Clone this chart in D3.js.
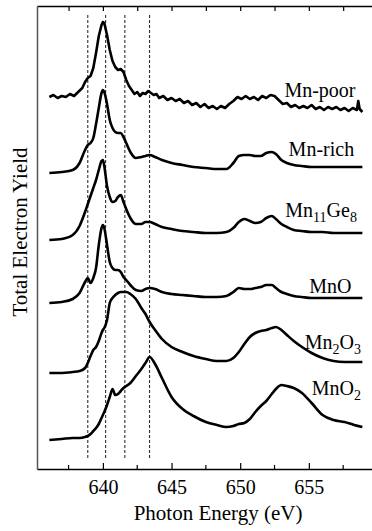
<!DOCTYPE html>
<html lang="en">
<head>
<meta charset="UTF-8">
<script src="https://d3js.org/d3.v7.min.js"></script>
<title>Mn L-edge Total Electron Yield</title>
<style>
    body { margin: 0; background: white; }
    text { font-family: "Liberation Serif", "Times New Roman", serif; fill: black; }
    .curve { fill: none; stroke: black; stroke-width: 2.6; stroke-linejoin: round; }
    .guide { stroke: black; stroke-width: 0.9; stroke-dasharray: 3,2; }
</style>
</head>
<body>
<script>
    // photon energy grid (eV) shared by the smooth spectra
    var energies = [636.1, 637.0, 637.8, 638.3, 638.7, 638.9, 639.1, 639.3, 639.5, 639.7,
        639.9, 640.0, 640.1, 640.3, 640.5, 640.7, 640.9, 641.1, 641.3, 641.5,
        641.7, 642.0, 642.4, 642.8, 643.1, 643.4, 643.8, 644.3, 645.0, 645.8,
        646.6, 647.5, 648.3, 649.0, 649.5, 649.9, 650.3, 650.7, 651.1, 651.5,
        651.9, 652.3, 652.6, 653.0, 653.4, 653.9, 654.5, 655.2, 656.0, 656.8,
        657.6, 658.3, 658.9];

    // spectra, offset vertically as plotted (arb. units)
    var mnRich = [296, 297, 299, 306, 319, 324, 326, 331, 345, 361,
        376, 379, 377, 365, 349, 341, 337, 336, 336, 332,
        326, 317, 311, 312, 313, 314, 312, 309, 306, 304,
        302, 301, 300, 300, 306, 313, 314, 314, 313, 313,
        316, 317, 315, 309, 306, 304, 303, 302, 302, 302,
        302, 302, 302];
    var mn11Ge8 = [229, 230, 234, 243, 257, 265, 273, 281, 289, 299,
        308, 309, 303, 283, 272, 267, 268, 272, 274, 267,
        260, 251, 245, 245, 247, 247, 245, 242, 240, 238,
        237, 236, 236, 237, 241, 247, 250, 248, 246, 247,
        251, 253, 250, 245, 242, 239, 238, 237, 237, 236,
        236, 236, 236];
    var mnO = [166, 167, 170, 176, 187, 191, 186, 191, 201, 224,
        241, 244, 241, 224, 207, 201, 199, 199, 197, 192,
        189, 184, 179, 178, 180, 181, 180, 177, 175, 174,
        173, 172, 172, 173, 177, 181, 180, 180, 181, 182,
        184, 184, 181, 177, 175, 173, 172, 171, 171, 171,
        171, 171, 171];
    var mn2O3 = [96, 96, 97, 98, 101, 106, 113, 119, 122, 128,
        136, 139, 141, 149, 166, 171, 174, 176, 177, 177,
        177, 175, 170, 161, 155, 147, 139, 130, 122, 117,
        113, 110, 108, 108, 111, 117, 125, 132, 136, 138,
        139, 141, 142, 139, 134, 128, 122, 116, 111, 108,
        107, 107, 107];
    var mnO2 = [29, 30, 31, 31, 32, 33, 35, 38, 41, 45,
        51, 54, 57, 64, 72, 80, 74, 75, 78, 81,
        83, 86, 93, 100, 106, 112, 105, 91, 72, 60,
        53, 47, 44, 42, 43, 45, 46, 50, 57, 63,
        68, 75, 80, 84, 83, 81, 76, 66, 54, 49,
        47, 44, 42];

    // the Mn-poor film is noisy, read on a denser grid
    var poorEnergies = [636.1, 636.4, 636.7, 637.0, 637.3, 637.6, 637.9, 638.2, 638.5, 638.7,
        638.9, 639.1, 639.3, 639.5, 639.7, 639.9, 640.0, 640.1, 640.3, 640.5,
        640.7, 640.9, 641.1, 641.3, 641.5, 641.7, 641.9, 642.1, 642.3, 642.5,
        642.7, 642.9, 643.1, 643.3, 643.5, 643.7, 643.9, 644.1, 644.4, 644.7,
        645.0, 645.3, 645.6, 645.9, 646.2, 646.5, 646.8, 647.1, 647.4, 647.7,
        648.0, 648.3, 648.6, 648.9, 649.2, 649.5, 649.8, 650.1, 650.4, 650.7,
        651.0, 651.3, 651.6, 651.9, 652.2, 652.5, 652.8, 653.1, 653.4, 653.7,
        654.0, 654.3, 654.6, 654.9, 655.2, 655.5, 655.8, 656.1, 656.4, 656.7,
        657.0, 657.3, 657.6, 657.9, 658.2, 658.5, 658.6, 658.7, 658.9];
    var mnPoor = [372, 374, 371, 373, 372, 375, 373, 377, 381, 387,
        391, 393, 401, 416, 433, 444, 447, 446, 434, 419,
        408, 402, 399, 400, 397, 389, 383, 379, 375, 377,
        373, 376, 375, 378, 376, 374, 375, 371, 373, 369,
        371, 368, 370, 366, 368, 364, 366, 362, 365, 361,
        363, 360, 363, 361, 365, 368, 372, 370, 373, 370,
        372, 369, 373, 371, 374, 373, 369, 365, 366, 362,
        364, 361, 363, 361, 364, 360, 362, 359, 362, 360,
        362, 359, 361, 358, 361, 359, 368, 360, 357];

    // reference peak positions (eV)
    var guideEnergies = [638.9, 640.2, 641.6, 643.4];

    var majorTicks = [640, 645, 650, 655];
    var minorTicks = [637.5, 642.5, 647.5, 652.5, 657.5];

    var labelNames = ["Mn-poor", "Mn-rich", "Mn11Ge8", "MnO", "Mn2O3", "MnO2"];
    var labelY = [372, 313, 252, 176, 120, 74];
    var labelEnd = [658.4, 658.3, 658.5, 658.1, 658.8, 658.8];

    var W = 372, H = 531;
    var padLeft = 37, padTop = 6, padBottom = 469, padRight = 372;

    var svg = d3.select("body").append("svg")
        .attr("width", W)
        .attr("height", H);

    var x = d3.scaleLinear().domain([635.2, 659.6]).range([padLeft, padRight]);
    var y = d3.scaleLinear().domain([0, 463]).range([padBottom, padTop]);

    // dashed guides
    svg.selectAll(".guide").data(guideEnergies).enter().append("line")
        .attr("class", "guide")
        .attr("x1", function(d) { return x(d); })
        .attr("x2", function(d) { return x(d); })
        .attr("y1", y(454))
        .attr("y2", y(9));

    var smooth = d3.line()
        .x(function(d, i) { return x(energies[i]); })
        .y(function(d) { return y(d); })
        .curve(d3.curveMonotoneX);

    [mnRich, mn11Ge8, mnO, mn2O3, mnO2].forEach(function(s) {
        svg.append("path").attr("class", "curve").attr("d", smooth(s));
    });

    var noisy = d3.line()
        .x(function(d, i) { return x(poorEnergies[i]); })
        .y(function(d) { return y(d); });
    svg.append("path").attr("class", "curve").attr("d", noisy(mnPoor));

    // axes: ticks point inward, labels on bottom only
    function styleAxis(g, color) {
        g.select(".domain").attr("stroke", color).attr("stroke-width", 1.5);
        g.selectAll(".tick line").attr("stroke", "black").attr("stroke-width", 1.2);
    }

    var gb = svg.append("g").attr("transform", "translate(0," + padBottom + ")")
        .call(d3.axisBottom(x).tickValues(majorTicks).tickSize(-6).tickSizeOuter(0).tickPadding(11));
    gb.selectAll("text").style("font-size", "20px").attr("fill", "black");
    styleAxis(gb, "black");
    gb.selectAll(".minor").data(minorTicks).enter().append("line")
        .attr("class", "minor")
        .attr("x1", function(d) { return x(d); })
        .attr("x2", function(d) { return x(d); })
        .attr("y1", 0).attr("y2", -4)
        .attr("stroke", "black").attr("stroke-width", 1.2);

    var gt = svg.append("g").attr("transform", "translate(0," + padTop + ")")
        .call(d3.axisTop(x).tickValues(majorTicks.concat(minorTicks)).tickSize(-5).tickSizeOuter(0).tickFormat(""));
    styleAxis(gt, "black");

    var gl = svg.append("g").attr("transform", "translate(" + padLeft + ",0)")
        .call(d3.axisLeft(y).tickValues([]).tickSizeOuter(0));
    styleAxis(gl, "#555");

    svg.append("text")
        .attr("x", 218).attr("y", 520)
        .attr("text-anchor", "middle")
        .style("font-size", "21px")
        .text("Photon Energy (eV)");

    svg.append("text")
        .attr("transform", "translate(27,232) rotate(-90)")
        .attr("text-anchor", "middle")
        .style("font-size", "21px")
        .text("Total Electron Yield");

    // sample labels with chemical subscripts
    labelNames.forEach(function(name, i) {
        var t = svg.append("text")
            .attr("x", x(labelEnd[i])).attr("y", y(labelY[i]))
            .attr("text-anchor", "end")
            .style("font-size", "20px");
        var parts = name.match(/[A-Za-z\-]+|\d+/g);
        var shifted = false;
        parts.forEach(function(p) {
            var sub = /^\d+$/.test(p);
            var dy = null;
            if (sub && !shifted) { dy = 5; shifted = true; }
            else if (!sub && shifted) { dy = -5; shifted = false; }
            t.append("tspan")
                .attr("dy", dy)
                .style("font-size", sub ? "14px" : "20px")
                .text(p);
        });
    });
</script>
</body>
</html>
